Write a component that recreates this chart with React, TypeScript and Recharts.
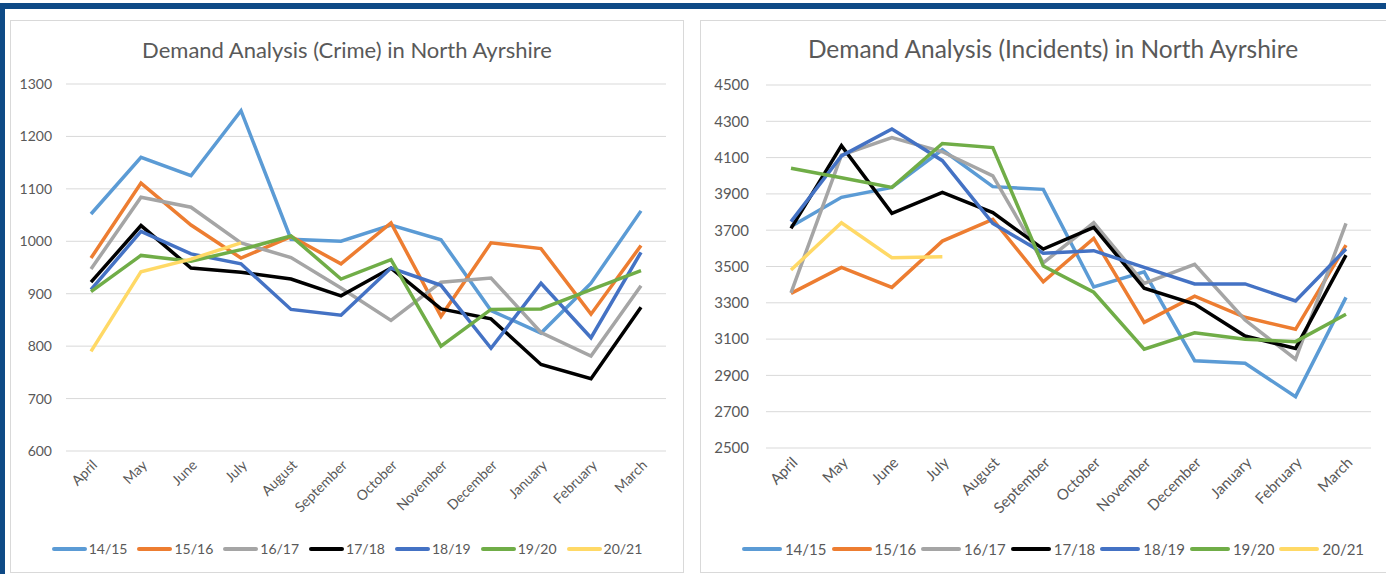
import React from 'react';
import { LineChart, Line, XAxis, YAxis, CartesianGrid, Legend } from 'recharts';

const months = ['April', 'May', 'June', 'July', 'August', 'September', 'October', 'November', 'December', 'January', 'February', 'March'];
const seasons = ['14/15', '15/16', '16/17', '17/18', '18/19', '19/20', '20/21'];
const colours = ['#5B9BD5', '#ED7D31', '#A5A5A5', '#000000', '#4472C4', '#70AD47', '#FFD966'];

// crime, by season
const crime1415 = [1052, 1160, 1125, 1249, 1004, 1000, 1031, 1003, 868, 825, 920, 1058];
const crime1516 = [968, 1111, 1031, 968, 1009, 957, 1035, 857, 997, 986, 861, 992];
const crime1617 = [947, 1084, 1065, 997, 969, 911, 849, 922, 930, 826, 781, 915];
const crime1718 = [922, 1030, 949, 941, 928, 896, 949, 871, 852, 765, 738, 874];
const crime1819 = [908, 1019, 976, 957, 870, 859, 949, 916, 796, 920, 816, 979];
const crime1920 = [904, 973, 962, 984, 1010, 928, 965, 800, 870, 871, 908, 944];
const crime2021 = [790, 942, 966, 997, null, null, null, null, null, null, null, null];
const crimeTicks = [600, 700, 800, 900, 1000, 1100, 1200, 1300];

// incidents, by season
const inc1415 = [3720, 3881, 3936, 4143, 3940, 3925, 3387, 3471, 2981, 2967, 2783, 3330];
const inc1516 = [3352, 3495, 3385, 3640, 3760, 3416, 3655, 3192, 3337, 3220, 3154, 3618];
const inc1617 = [3355, 4114, 4210, 4132, 3999, 3520, 3741, 3407, 3512, 3205, 2989, 3738];
const inc1718 = [3710, 4166, 3793, 3909, 3797, 3596, 3716, 3380, 3293, 3117, 3049, 3563];
const inc1819 = [3747, 4109, 4258, 4083, 3738, 3573, 3587, 3495, 3404, 3404, 3310, 3596];
const inc1920 = [4041, 3989, 3936, 4178, 4155, 3503, 3358, 3044, 3135, 3099, 3086, 3237];
const inc2021 = [3481, 3741, 3548, 3554, null, null, null, null, null, null, null, null];
const incidentTicks = [2500, 2700, 2900, 3100, 3300, 3500, 3700, 3900, 4100, 4300, 4500];

const buildRows = (series: (number | null)[][]) =>
  months.map((m, i) => {
    const row: Record<string, any> = { month: m };
    seasons.forEach((s, j) => { row[s] = series[j][i]; });
    return row;
  });

const crimeRows = buildRows([crime1415, crime1516, crime1617, crime1718, crime1819, crime1920, crime2021]);
const incidentRows = buildRows([inc1415, inc1516, inc1617, inc1718, inc1819, inc1920, inc2021]);

const grey = '#595959';
const font = 'Lato, "Open Sans", sans-serif';

type LegendStyle = { swatch: number; gap: number; size: number; spacing: number };

const legendContent = (ls: LegendStyle) => (props: any) => {
  const items = props.payload || [];
  return (
    <div style={{ display: 'flex', justifyContent: 'center', alignItems: 'center', fontFamily: font }}>
      {items.map((e: any, i: number) => (
        <div key={e.value} style={{ display: 'flex', alignItems: 'center', marginRight: i < items.length - 1 ? ls.spacing : 0 }}>
          <div style={{ width: ls.swatch, height: 3.5, borderRadius: 2, background: e.color }} />
          <span style={{ marginLeft: ls.gap, fontSize: ls.size, color: grey, lineHeight: '20px' }}>{e.value}</span>
        </div>
      ))}
    </div>
  );
};

type ChartProps = {
  title: string;
  rows: Record<string, any>[];
  ticks: number[];
  left: number;
  width: number;
  height: number;
  margin: { top: number; right: number; bottom: number; left: number };
  yWidth: number;
  yGap: number;
  fontSize: number;
  titleSize: number;
  titleTop: number;
  legendTop: number;
  legend: LegendStyle;
};

function DemandChart(p: ChartProps) {
  return (
    <div style={{ position: 'absolute', left: p.left, top: 20, width: p.width, height: p.height, border: '1px solid #D9D9D9', background: '#fff' }}>
      <div style={{ position: 'absolute', left: 0, top: p.titleTop, width: '100%', textAlign: 'center', fontSize: p.titleSize, color: grey, fontFamily: font }}>
        {p.title}
      </div>
      <LineChart width={p.width} height={p.height} data={p.rows} margin={p.margin} style={{ fontFamily: font }}>
        <CartesianGrid vertical={false} stroke="#D9D9D9" strokeWidth={1} />
        <XAxis
          dataKey="month"
          interval={0}
          angle={-45}
          textAnchor="end"
          height={60}
          axisLine={false}
          tickLine={false}
          padding={{ left: 25, right: 25 }}
          tick={{ fill: grey, fontSize: p.fontSize }}
        />
        <YAxis
          type="number"
          domain={[p.ticks[0], p.ticks[p.ticks.length - 1]]}
          ticks={p.ticks}
          width={p.yWidth}
          axisLine={false}
          tickLine={false}
          tickMargin={p.yGap}
          tick={{ fill: grey, fontSize: p.fontSize }}
        />
        <Legend
          layout="horizontal"
          verticalAlign="middle"
          align="center"
          wrapperStyle={{ top: p.legendTop, left: 0, width: p.width }}
          content={legendContent(p.legend)}
        />
        {seasons.map((s, i) => (
          <Line key={s} type="linear" dataKey={s} stroke={colours[i]} strokeWidth={3.5} dot={false} isAnimationActive={false} />
        ))}
      </LineChart>
    </div>
  );
}

export default function App() {
  return (
    <div style={{ position: 'absolute', left: 0, top: 0, width: 1386, height: 574, overflow: 'hidden', background: '#fff' }}>
      <div style={{ position: 'absolute', left: 0, top: 3, width: 1386, height: 6, background: '#0E4A86' }} />
      <div style={{ position: 'absolute', left: 0, top: 3, width: 5, height: 571, background: '#0E4A86' }} />
      <DemandChart
        title="Demand Analysis (Crime) in North Ayrshire"
        rows={crimeRows}
        ticks={crimeTicks}
        left={10}
        width={672}
        height={551}
        margin={{ top: 63, right: 17, bottom: 61, left: 10 }}
        yWidth={45}
        yGap={8}
        fontSize={14}
        titleSize={22}
        titleTop={15}
        legendTop={518}
        legend={{ swatch: 35, gap: 2, size: 14, spacing: 10 }}
      />
      <DemandChart
        title="Demand Analysis (Incidents) in North Ayrshire"
        rows={incidentRows}
        ticks={incidentTicks}
        left={700}
        width={704}
        height={551}
        margin={{ top: 64, right: 34, bottom: 64, left: 15 }}
        yWidth={50}
        yGap={11}
        fontSize={15}
        titleSize={24.5}
        titleTop={13}
        legendTop={518}
        legend={{ swatch: 40, gap: 3, size: 15, spacing: 5 }}
      />
    </div>
  );
}
